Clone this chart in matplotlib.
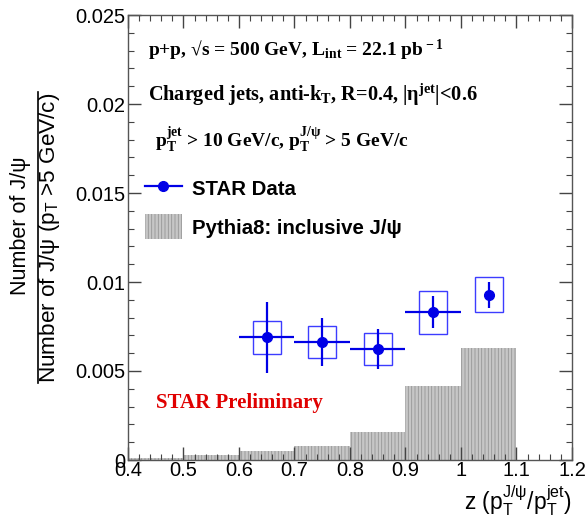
import numpy as np
import matplotlib
matplotlib.use('Agg')
import matplotlib.pyplot as plt
from matplotlib.patches import Rectangle, Patch
from matplotlib.lines import Line2D

plt.rcParams['mathtext.fontset'] = 'custom'
plt.rcParams['mathtext.rm'] = 'Liberation Serif:bold'
plt.rcParams['mathtext.bf'] = 'Liberation Serif:bold'
plt.rcParams['mathtext.it'] = 'Liberation Serif:bold'
plt.rcParams['mathtext.sf'] = 'Liberation Sans'
plt.rcParams['hatch.linewidth'] = 0.6

# STAR data points
z = [0.65, 0.75, 0.85, 0.95, 1.05]
z_err = [0.05, 0.05, 0.05, 0.05, 0.0]
frac = [0.00689, 0.00665, 0.00624, 0.0083, 0.00929]
stat_err = [0.0020, 0.00135, 0.0011, 0.0009, 0.00073]
sys_err = [0.00092, 0.0009, 0.0009, 0.00122, 0.0010]
sys_halfwidth = 0.025

# Pythia8 inclusive J/psi histogram
bin_edges = [0.4, 0.5, 0.6, 0.7, 0.8, 0.9, 1.0, 1.1]
pythia = [0.00013, 0.0003, 0.00049, 0.00079, 0.00159, 0.00418, 0.00629]

x_ticks = [0.4, 0.5, 0.6, 0.7, 0.8, 0.9, 1.0, 1.1, 1.2]
x_labels = ['0.4', '0.5', '0.6', '0.7', '0.8', '0.9', '1', '1.1', '1.2']
y_ticks = [0, 0.005, 0.01, 0.015, 0.02, 0.025]
y_labels = ['0', '0.005', '0.01', '0.015', '0.02', '0.025']

blue = '#0000e6'

fig = plt.figure(figsize=(5.85, 5.26), dpi=100)
ax = fig.add_axes([128/585, 1-460/526, 444/585, 445/526])

# histogram
ax.bar(bin_edges[:-1], pythia, width=np.diff(bin_edges), align='edge',
       facecolor='#c6c6c6', edgecolor='#969696', hatch='|||||', linewidth=0, zorder=1)

# systematic boxes
for xi, yi, s in zip(z, frac, sys_err):
    ax.add_patch(Rectangle((xi - sys_halfwidth, yi - s), 2*sys_halfwidth, 2*s,
                           fill=False, edgecolor='#3c3cff', linewidth=1.0, zorder=3))

# data points with stat errors
ax.errorbar(z, frac, xerr=z_err, yerr=stat_err, fmt='o', color=blue,
            markersize=7, elinewidth=1.6, capsize=0, zorder=4)

ax.set_xlim(0.4, 1.2)
ax.set_ylim(0, 0.025)
ax.set_xticks(x_ticks)
ax.set_xticklabels(x_labels)
ax.set_yticks(y_ticks)
ax.set_yticklabels(y_labels)
ax.set_xticks(np.arange(0.4, 1.2001, 0.02), minor=True)
ax.set_yticks(np.arange(0, 0.02501, 0.001), minor=True)
ax.tick_params(which='both', direction='in', top=True, right=True, color='#444444',
               labelsize=14.5, labelfontfamily='Liberation Sans')
ax.tick_params(which='major', length=9.5, width=1)
ax.tick_params(which='minor', length=4.5, width=0.8)
ax.tick_params(axis='y', pad=2)
ax.tick_params(axis='x', pad=1)
for sp in ax.spines.values():
    sp.set_color('#555555')
    sp.set_linewidth(1.0)

ax.set_xlabel(r'z (p$\mathsf{_T^{J/\psi}}$/p$\mathsf{_T^{jet}}$)', family='Liberation Sans',
              fontsize=16.5, loc='right', labelpad=2)

# y axis label drawn as a fraction
fig.text(21/585, 1-226/526, 'Number of J/ψ', family='Liberation Sans', fontsize=15.5,
         rotation=90, ha='center', va='center')
fig.text(50/585, 1-237.5/526, r'Number of J/ψ (p$\mathsf{_T}$ >5 GeV/c)', family='Liberation Sans',
         fontsize=16.2, rotation=90, ha='center', va='center')
fig.add_artist(Line2D([37.7/585, 37.7/585], [1-92/526, 1-383/526], color='black', linewidth=1.2))

# annotations
ax.text(0.045, 0.921, r'p+p, √s = 500 GeV, L$_{\rm int}$ = 22.1 pb$^{\rm -1}$',
        transform=ax.transAxes, family='Liberation Serif', weight='bold', fontsize=14, va='center')
ax.text(0.045, 0.82, r'Charged jets, anti-k$_{\rm T}$, R=0.4, |η$^{\rm jet}$|<0.6',
        transform=ax.transAxes, family='Liberation Serif', weight='bold', fontsize=14.6, va='center')
ax.text(0.061, 0.719, r'p$_{\rm T}^{\rm jet}$ > 10 GeV/c, p$_{\rm T}^{\rm J/ψ}$ > 5 GeV/c',
        transform=ax.transAxes, family='Liberation Serif', weight='bold', fontsize=14, va='center')
ax.text(0.252, 0.128, 'STAR Preliminary', transform=ax.transAxes, color='#e00000',
        family='Liberation Serif', weight='bold', fontsize=15, ha='center', va='center')

handles = [Line2D([], [], color=blue, marker='o', markersize=7, linewidth=1.6),
           Patch(facecolor='#c6c6c6', edgecolor='#969696', hatch='|||||', linewidth=0)]
ax.legend(handles, ['STAR Data', 'Pythia8: inclusive J/ψ'], loc='upper left',
          bbox_to_anchor=(0.02, 0.656), frameon=False, handlelength=1.8, handleheight=1.5,
          handletextpad=0.5, labelspacing=0.65, borderaxespad=0,
          prop={'family': 'Liberation Sans', 'weight': 'bold', 'size': 14.7})

fig.savefig('out.png', dpi=100)
